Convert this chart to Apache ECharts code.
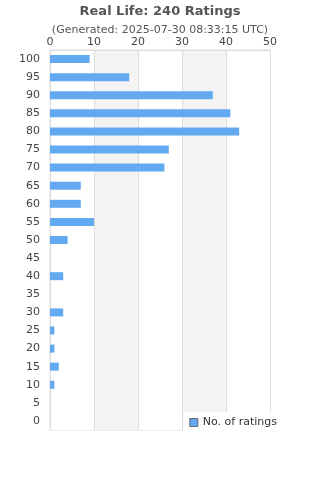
<!DOCTYPE html>
<html>
<head>
<meta charset="utf-8">
<script src="https://cdn.jsdelivr.net/npm/echarts@6/dist/echarts.min.js"></script>
<style>
  html, body { margin: 0; padding: 0; background: #fff; }
  #chart { width: 320px; height: 480px; }
</style>
</head>
<body>
<div id="chart"></div>
<script>
// rating buckets, bottom to top
const categories = ['0', '5', '10', '15', '20', '25', '30', '35', '40', '45', '50',
  '55', '60', '65', '70', '75', '80', '85', '90', '95', '100'];
const ratingCounts = [0, 0, 1, 2, 1, 1, 3, 0, 3, 0, 4,
  10, 7, 7, 26, 27, 43, 41, 37, 18, 9];
const titleText = 'Real Life: 240 Ratings';
const subtitleText = '(Generated: 2025-07-30 08:33:15 UTC)';
const seriesName = 'No. of ratings';

let myChart = echarts.init(document.getElementById('chart'));

let option = {
  animation: false,
  title: {
    text: titleText,
    subtext: subtitleText,
    left: 'center',
    top: 0,
    itemGap: 7,
    textStyle: { fontSize: 13, fontWeight: 'bold', color: '#555', fontFamily: 'DejaVu Sans' },
    subtextStyle: { fontSize: 11, color: '#555', fontFamily: 'DejaVu Sans' }
  },
  legend: {
    data: [{ name: seriesName, icon: 'rect', itemStyle: { color: '#62a9f2', borderColor: '#666', borderWidth: 1 } }],
    right: 38,
    bottom: 40,
    backgroundColor: '#fff',
    padding: [5, 5, 12, 6],
    itemWidth: 8,
    itemHeight: 8,
    itemGap: 10,
    textStyle: { fontSize: 11, color: '#333', fontFamily: 'DejaVu Sans' }
  },
  grid: {
    left: 50,
    right: 50,
    top: 50,
    bottom: 50,
    show: true,
    borderColor: '#ddd',
    borderWidth: 1,
    containLabel: false
  },
  xAxis: {
    type: 'value',
    position: 'top',
    min: 0,
    max: 50,
    interval: 10,
    axisLine: { show: true, lineStyle: { color: '#ddd' } },
    axisTick: { show: false },
    axisLabel: { fontSize: 11, color: '#444', margin: 2, fontFamily: 'DejaVu Sans' },
    splitLine: { show: true, lineStyle: { color: '#ddd' } },
    splitArea: { show: true, areaStyle: { color: ['#fff', '#f3f3f3'] } }
  },
  yAxis: {
    type: 'category',
    data: categories,
    axisLine: { show: true, lineStyle: { color: '#ddd' } },
    axisTick: { show: false },
    axisLabel: { fontSize: 11, color: '#444', margin: 10, fontFamily: 'DejaVu Sans' }
  },
  series: [
    {
      name: seriesName,
      type: 'bar',
      data: ratingCounts,
      barWidth: 8,
      itemStyle: { color: '#62a9f2' }
    }
  ]
};

myChart.setOption(option);
</script>
</body>
</html>
